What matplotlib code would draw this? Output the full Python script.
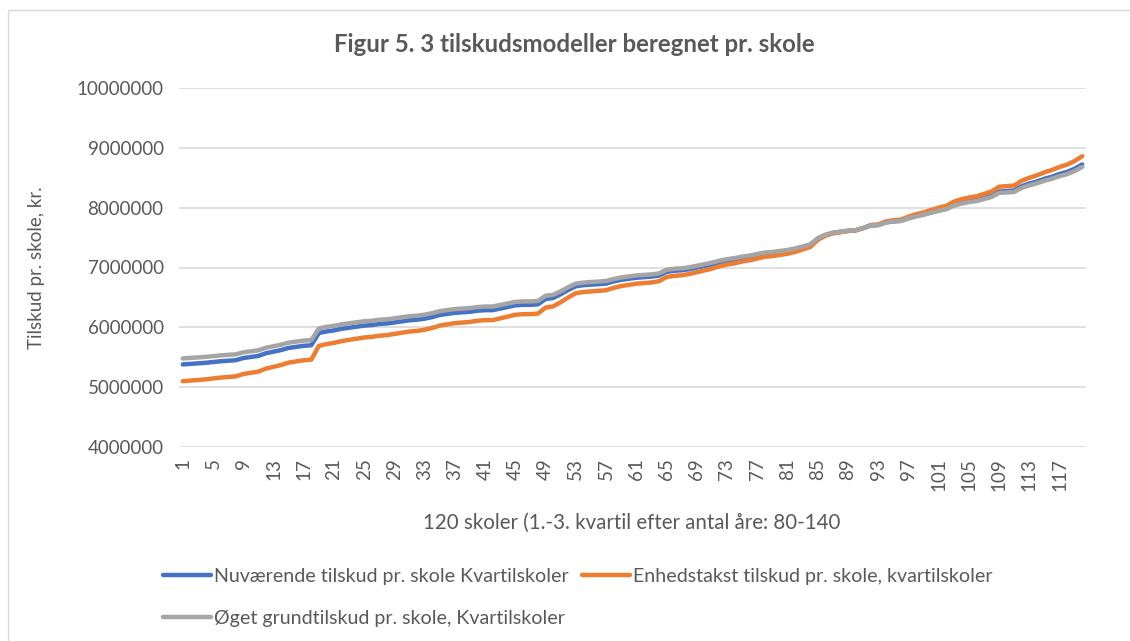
import matplotlib
matplotlib.use("Agg")
import matplotlib.pyplot as plt
from matplotlib.patches import Rectangle

plt.rcParams['font.family'] = ['Lato', 'DejaVu Sans']

title = "Figur 5. 3 tilskudsmodeller beregnet pr. skole"
x_label = "120 skoler (1.-3. kvartil efter antal åre: 80-140"
y_label = "Tilskud pr. skole, kr."
series_names = ["Nuværende tilskud pr. skole Kvartilskoler",
                "Enhedstakst tilskud pr. skole, kvartilskoler",
                "Øget grundtilskud pr. skole, Kvartilskoler"]

schools = list(range(1, 121))

nuvaerende = [
    5380000, 5389000, 5398000, 5407000, 5420000, 5433000, 5442000, 5451000, 5487000, 5504000,
    5522000, 5567000, 5593000, 5620000, 5656000, 5673000, 5691000, 5700000, 5905000, 5931000,
    5949000, 5976000, 5993000, 6011000, 6029000, 6038000, 6056000, 6065000, 6082000, 6100000,
    6118000, 6127000, 6145000, 6171000, 6207000, 6225000, 6242000, 6251000, 6260000, 6278000,
    6287000, 6287000, 6313000, 6340000, 6367000, 6376000, 6376000, 6385000, 6473000, 6491000,
    6553000, 6625000, 6687000, 6705000, 6714000, 6722000, 6731000, 6767000, 6794000, 6811000,
    6829000, 6838000, 6847000, 6865000, 6927000, 6945000, 6954000, 6971000, 6998000, 7025000,
    7051000, 7087000, 7114000, 7131000, 7158000, 7176000, 7202000, 7229000, 7238000, 7256000,
    7274000, 7300000, 7336000, 7371000, 7478000, 7540000, 7576000, 7594000, 7611000, 7620000,
    7656000, 7700000, 7709000, 7754000, 7771000, 7780000, 7825000, 7860000, 7887000, 7923000,
    7958000, 7985000, 8047000, 8083000, 8109000, 8127000, 8163000, 8198000, 8269000, 8278000,
    8287000, 8358000, 8403000, 8438000, 8483000, 8518000, 8563000, 8598000, 8651000, 8722000,
]

enhedstakst = [
    5100000, 5110000, 5120000, 5130000, 5145000, 5160000, 5170000, 5180000, 5220000, 5240000,
    5260000, 5310000, 5340000, 5370000, 5410000, 5430000, 5450000, 5460000, 5690000, 5720000,
    5740000, 5770000, 5790000, 5810000, 5830000, 5840000, 5860000, 5870000, 5890000, 5910000,
    5930000, 5940000, 5960000, 5990000, 6030000, 6050000, 6070000, 6080000, 6090000, 6110000,
    6120000, 6120000, 6150000, 6180000, 6210000, 6220000, 6220000, 6230000, 6330000, 6350000,
    6420000, 6500000, 6570000, 6590000, 6600000, 6610000, 6620000, 6660000, 6690000, 6710000,
    6730000, 6740000, 6750000, 6770000, 6840000, 6860000, 6870000, 6890000, 6920000, 6950000,
    6980000, 7020000, 7050000, 7070000, 7100000, 7120000, 7150000, 7180000, 7190000, 7210000,
    7230000, 7260000, 7300000, 7340000, 7460000, 7530000, 7570000, 7590000, 7610000, 7620000,
    7660000, 7710000, 7720000, 7770000, 7790000, 7800000, 7850000, 7890000, 7920000, 7960000,
    8000000, 8030000, 8100000, 8140000, 8170000, 8190000, 8230000, 8270000, 8350000, 8360000,
    8370000, 8450000, 8500000, 8540000, 8590000, 8630000, 8680000, 8720000, 8780000, 8860000,
]

oget_grundtilskud = [
    5480000, 5489000, 5497000, 5506000, 5518000, 5531000, 5540000, 5548000, 5582000, 5599000,
    5616000, 5659000, 5684000, 5710000, 5744000, 5761000, 5778000, 5786000, 5982000, 6008000,
    6025000, 6050000, 6067000, 6084000, 6101000, 6110000, 6127000, 6135000, 6152000, 6169000,
    6186000, 6195000, 6212000, 6237000, 6271000, 6288000, 6305000, 6314000, 6322000, 6340000,
    6348000, 6348000, 6374000, 6399000, 6425000, 6433000, 6433000, 6442000, 6527000, 6544000,
    6603000, 6671000, 6731000, 6748000, 6757000, 6765000, 6774000, 6808000, 6833000, 6850000,
    6867000, 6876000, 6884000, 6901000, 6961000, 6978000, 6986000, 7003000, 7029000, 7054000,
    7080000, 7114000, 7139000, 7156000, 7182000, 7199000, 7225000, 7250000, 7259000, 7276000,
    7293000, 7318000, 7352000, 7386000, 7488000, 7548000, 7582000, 7599000, 7616000, 7625000,
    7659000, 7701000, 7710000, 7752000, 7769000, 7778000, 7820000, 7854000, 7880000, 7914000,
    7948000, 7973000, 8033000, 8067000, 8093000, 8110000, 8144000, 8178000, 8246000, 8254000,
    8263000, 8331000, 8373000, 8407000, 8450000, 8484000, 8527000, 8561000, 8612000, 8680000,
]

y_ticks = [4000000, 5000000, 6000000, 7000000, 8000000, 9000000, 10000000]
x_tick_labels = [str(s) for s in schools[::4]]

colors = ["#4472C4", "#ED7D31", "#A5A5A5"]
text_color = "#595959"
grid_color = "#D9D9D9"

W, H = 1130, 641
fig = plt.figure(figsize=(W / 100, H / 100), dpi=100)
fig.patch.set_facecolor("white")
fig.patches.append(Rectangle((8 / W, -0.01), (1140 - 8) / W, 1.01 - 10 / H,
                             transform=fig.transFigure, fill=False,
                             edgecolor=grid_color, linewidth=1.0))

ax = fig.add_axes([179 / W, 1 - 447 / H, (1086 - 179) / W, (447 - 88) / H])

lines = []
for vals, c, name in zip([nuvaerende, enhedstakst, oget_grundtilskud], colors, series_names):
    ln, = ax.plot(schools, vals, color=c, linewidth=3.2, solid_joinstyle="round",
                  solid_capstyle="round", label=name)
    lines.append(ln)

ax.set_xlim(0.5, 120.5)
ax.set_ylim(4000000, 10000000)
ax.set_yticks(y_ticks)
ax.set_yticklabels([str(v) for v in y_ticks])
ax.set_xticks(schools[::4])
ax.set_xticklabels(x_tick_labels, rotation=90)
ax.tick_params(axis="both", length=0, labelsize=13.5, colors=text_color)
ax.tick_params(axis="y", pad=11)
ax.tick_params(axis="x", pad=8)
ax.grid(axis="y", color=grid_color, linewidth=1.2)
ax.set_axisbelow(True)
for s in ax.spines.values():
    s.set_visible(False)

fig.text(574 / W, 1 - 45 / H, title, ha="center", va="center",
         fontsize=17.3, fontweight="bold", color=text_color)
fig.text(632 / W, 1 - 523 / H, x_label, ha="center", va="center",
         fontsize=14.8, color=text_color)
fig.text(37 / W, 1 - 268 / H, y_label, ha="center", va="center",
         rotation=90, fontsize=13.5, color=text_color)

leg = fig.legend([lines[0], lines[2], lines[1]],
                 [series_names[0], series_names[2], series_names[1]],
                 ncol=2, loc="upper left", bbox_to_anchor=(163 / W, 1 - 568 / H),
                 frameon=False, fontsize=14.1, handlelength=2.45, handletextpad=0.15,
                 columnspacing=0.7, labelspacing=1.27, labelcolor=text_color,
                 borderaxespad=0, borderpad=0)

fig.savefig("out.png", dpi=100, facecolor="white")
